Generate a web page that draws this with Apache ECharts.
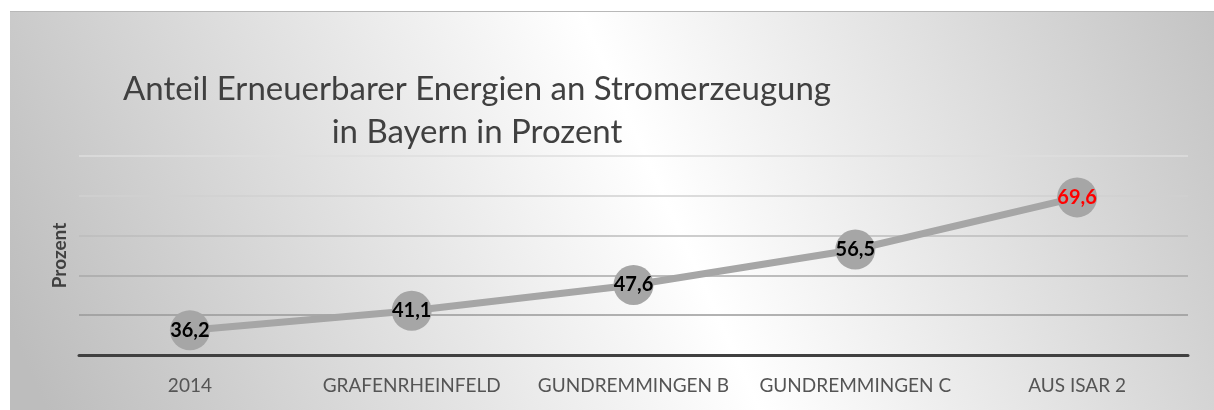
<!DOCTYPE html>
<html>
<head>
<meta charset="utf-8">
<script src="https://cdn.jsdelivr.net/npm/echarts@6/dist/echarts.min.js"></script>
<style>
html,body{margin:0;padding:0;background:#fff;}
#chart{width:1214px;height:410px;}
</style>
</head>
<body>
<div id="chart"></div>
<script>
const titleLines = ['Anteil Erneuerbarer Energien an Stromerzeugung', 'in Bayern in Prozent'];
const categories = ['2014', 'GRAFENRHEINFELD', 'GUNDREMMINGEN B', 'GUNDREMMINGEN C', 'AUS ISAR 2'];
const values = [36.2, 41.1, 47.6, 56.5, 69.6];
const labelColors = ['#000000', '#000000', '#000000', '#000000', '#ff0000'];
const yAxisName = 'Prozent';

const chart = echarts.init(document.getElementById('chart'));
const fmt = v => String(v).replace('.', ',');

chart.setOption({
  animation: false,
  graphic: [
    {
      type: 'rect', z: -10, silent: true,
      shape: { x: 10, y: 11, width: 1204, height: 399 },
      style: {
        fill: new echarts.graphic.LinearGradient(77, 477, 1263, -57, [
          { offset: 0, color: '#bdbdbd' },
          { offset: 0.5, color: '#ffffff' },
          { offset: 1, color: '#bcbcbc' }
        ], true)
      }
    },
    {
      type: 'line', z: -9, silent: true,
      shape: { x1: 10, y1: 11.5, x2: 1214, y2: 11.5 },
      style: { stroke: '#b8b8b8', lineWidth: 1 }
    },
    {
      type: 'text', silent: true, x: 477, y: 68,
      style: {
        text: titleLines.join('\n'),
        align: 'center',
        verticalAlign: 'top',
        font: '33px Lato',
        fill: '#404040',
        lineHeight: 43
      }
    }
  ],
  grid: { left: 79, right: 26, top: 156, bottom: 55, containLabel: false },
  xAxis: {
    type: 'category',
    data: categories,
    boundaryGap: true,
    axisLine: { show: true, lineStyle: { color: '#404040', width: 3 } },
    axisTick: { show: false },
    axisLabel: { color: '#555555', fontSize: 19, fontFamily: 'Lato', margin: 21, interval: 0 },
    splitLine: { show: false }
  },
  yAxis: {
    type: 'value',
    min: 30, max: 80, interval: 10,
    name: yAxisName,
    nameLocation: 'middle',
    nameRotate: 90,
    nameGap: 10,
    nameTextStyle: { color: '#404040', fontSize: 19, fontWeight: 'bold', fontFamily: 'Lato' },
    axisLine: { show: false },
    axisTick: { show: false },
    axisLabel: { show: false },
    splitLine: { show: true, lineStyle: { color: ['#999999', '#999999', '#a8a8a8', '#bdbdbd', '#d0d0d0', '#dedede'], width: 1.5 } }
  },
  series: [{
    type: 'line',
    data: values.map((v, i) => ({
      value: v,
      label: { color: labelColors[i] }
    })),
    lineStyle: { color: '#a6a6a6', width: 7 },
    itemStyle: { color: '#a6a6a6' },
    symbol: 'circle',
    symbolSize: 40,
    showSymbol: true,
    label: {
      show: true,
      position: 'inside',
      formatter: p => fmt(p.value),
      fontSize: 20,
      fontWeight: 'bold',
      fontFamily: 'Lato'
    }
  }]
});
</script>
</body>
</html>
